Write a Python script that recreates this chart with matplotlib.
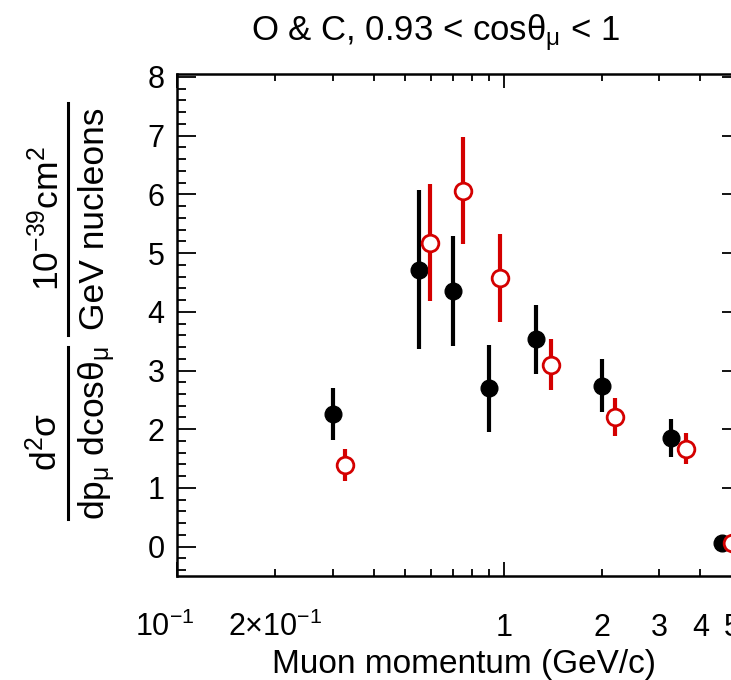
import numpy as np
import matplotlib
matplotlib.use("Agg")
import matplotlib.pyplot as plt
from matplotlib.ticker import MultipleLocator
from matplotlib.lines import Line2D
import matplotlib.transforms as mtransforms

plt.rcParams['font.family'] = ['Liberation Sans', 'DejaVu Sans']
plt.rcParams['mathtext.fontset'] = 'custom'
plt.rcParams['mathtext.rm'] = 'Liberation Sans'
plt.rcParams['mathtext.it'] = 'Liberation Sans:italic'
plt.rcParams['mathtext.bf'] = 'Liberation Sans:bold'

# Datos: momento del muon (GeV/c), seccion eficaz y error
p_negro = [0.301, 0.549, 0.702, 0.903, 1.254, 2.00, 3.25, 4.65]
xs_negro = [2.26, 4.72, 4.35, 2.70, 3.53, 2.74, 1.85, 0.06]
err_negro = [0.45, 1.35, 0.94, 0.74, 0.59, 0.45, 0.33, 0.03]

p_rojo = [0.326, 0.596, 0.753, 0.976, 1.40, 2.20, 3.61, 5.02]
xs_rojo = [1.39, 5.18, 6.06, 4.57, 3.10, 2.21, 1.67, 0.06]
err_rojo = [0.28, 1.00, 0.91, 0.75, 0.43, 0.32, 0.26, 0.03]

ticks_mayores = [0.1, 1]
etiq_mayores = [r'10$^{-1}$', '1']
ticks_menores = [0.2, 0.3, 0.4, 0.5, 0.6, 0.7, 0.8, 0.9, 2, 3, 4, 5]
etiq_menores = [r'2$\times$10$^{-1}$', '', '', '', '', '', '', '', '2', '3', '4', '5']

W, H = 731, 680
fig = plt.figure(figsize=(W / 100, H / 100), dpi=100)
ax = fig.add_axes([177 / W, 104 / H, 564 / W, 502 / H])

rojo = '#d40000'
ax.errorbar(p_negro, xs_negro, yerr=err_negro, fmt='o', color='black',
            ms=12, elinewidth=3, capsize=0, zorder=3)
ax.errorbar(p_rojo, xs_rojo, yerr=err_rojo, fmt='o', color=rojo, mfc='white',
            mec=rojo, mew=2, ms=12, elinewidth=3, capsize=0, zorder=4)

ax.set_xscale('log')
ax.set_xlim(0.1, 5.33)
ax.set_ylim(-0.5, 8.05)

ax.set_xticks(ticks_mayores, etiq_mayores)
ax.set_xticks(ticks_menores, etiq_menores, minor=True)
ax.yaxis.set_major_locator(MultipleLocator(1))
ax.yaxis.set_minor_locator(MultipleLocator(0.2))

ax.tick_params(which='both', direction='in', top=True, right=True, width=1.3)
ax.tick_params(axis='y', which='major', length=13.5, labelsize=22, pad=9)
ax.tick_params(axis='y', which='minor', length=6.5)
ax.tick_params(axis='x', which='major', length=10, labelsize=22, pad=43)
ax.tick_params(axis='x', which='minor', length=5, labelsize=22, pad=43)
for lbl in ax.get_xticklabels() + ax.get_xticklabels(minor=True):
    lbl.set_verticalalignment('baseline')
# primera etiqueta corrida a la izquierda
desp = mtransforms.ScaledTranslation(-12 / 100, 0, fig.dpi_scale_trans)
ax.get_xticklabels()[0].set_transform(ax.get_xticklabels()[0].get_transform() + desp)

for s in ax.spines.values():
    s.set_linewidth(1.8)

# Titulo y ejes
fig.text(436 / W, 1 - 40 / H, r'O & C, 0.93 < cosθ$_{\mathrm{μ}}$ < 1',
         fontsize=25, ha='center', va='baseline')
fig.text(464 / W, 1 - 673 / H, 'Muon momentum (GeV/c)',
         fontsize=24, ha='center', va='baseline')

# Etiqueta del eje y: dos fracciones giradas
kw = dict(rotation=90, rotation_mode='anchor', ha='center', va='baseline', fontsize=25.5)
fig.text(59 / W, 1 - 219 / H, r'10$^{-39}$cm$^{2}$', **kw)
fig.text(104 / W, 1 - 219 / H, 'GeV nucleons', **kw)
fig.text(57 / W, 1 - 442 / H, r'd$^{2}$σ', **kw)
fig.text(104 / W, 1 - 433 / H, r'dp$_{\mathrm{μ}}$ dcosθ$_{\mathrm{μ}}$', **kw)
for y0, y1 in [(103, 335), (347, 519)]:
    fig.add_artist(Line2D([68 / W, 68 / W], [1 - y0 / H, 1 - y1 / H],
                          color='black', lw=2.2, transform=fig.transFigure))

fig.savefig('out.png', dpi=100)
